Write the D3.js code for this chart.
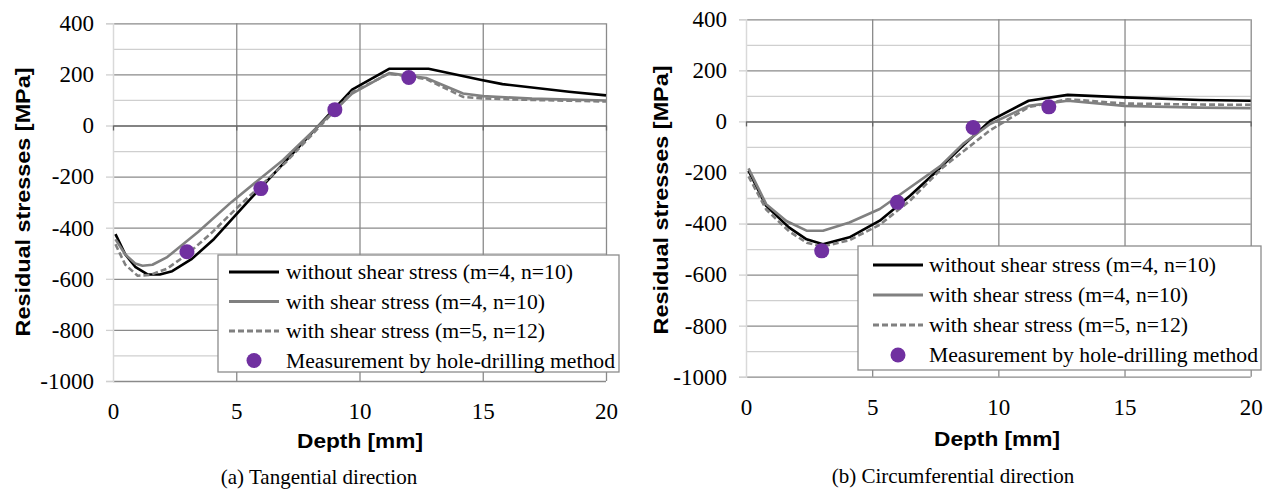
<!DOCTYPE html>
<html>
<head>
<meta charset="utf-8">
<script src="https://cdn.jsdelivr.net/npm/d3@7"></script>
<style>
body { margin: 0; background: #fff; }
</style>
</head>
<body>
<svg id="chart" width="1272" height="494"></svg>
<script>
// axis ticks
var depthTicks = [0, 5, 10, 15, 20];
var stressTicks = [-1000, -800, -600, -400, -200, 0, 200, 400];
var stressMinor = [-900, -700, -500, -300, -100, 100, 300];

var legendLabels = [
	"without shear stress (m=4, n=10)",
	"with shear stress (m=4, n=10)",
	"with shear stress (m=5, n=12)",
	"Measurement by hole-drilling method"
];

// hole-drilling measurements
var measDepth = [3, 6, 9, 12];
var tanMeas = [-494, -247, 62, 188];
var circMeas = [-507, -317, -24, 57];

// (a) tangential : [depth mm, stress MPa]
var tanNoShear = [[0.1,-425],[0.5,-505],[0.9,-553],[1.4,-583],[1.9,-583],[2.4,-570],[3.2,-522],[4.1,-444],[5.5,-295],[9.7,140],[11.2,222],[12.8,222],[14.9,179],[15.8,162],[18.5,132],[20,118]];
var tanShear410 = [[0.1,-445],[0.5,-505],[0.9,-540],[1.2,-549],[1.6,-545],[2.2,-515],[3.45,-417],[4.8,-300],[6.9,-135],[9.7,125],[11.2,205],[12.7,186],[14.2,125],[15,115],[17,105],[20,98]];
var tanShear512 = [[0.1,-465],[0.5,-545],[1.0,-588],[1.5,-585],[2.2,-560],[3.0,-505],[4.0,-420],[5.0,-325],[7,-145],[9.7,130],[11.2,203],[12.7,182],[14.2,112],[15,106],[17,100],[20,94]];

// (b) circumferential
var circNoShear = [[0.1,-193],[0.8,-331],[1.7,-415],[2.4,-462],[3.05,-481],[4.1,-454],[5.3,-389],[6.5,-291],[7.5,-200],[8.6,-95],[9.67,2],[11.2,81],[12.75,104],[15,94],[18,84],[20,81]];
var circShear410 = [[0.1,-184],[0.8,-324],[1.6,-390],[2.4,-428],[3.05,-428],[4.1,-396],[5.3,-343],[6.5,-259],[7.7,-175],[8.6,-88],[9.67,-10],[11.2,61],[12.75,81],[15,61],[18,54],[20,52]];
var circShear512 = [[0.1,-215],[0.8,-345],[1.7,-430],[2.4,-475],[3.05,-490],[4.1,-465],[5.3,-405],[6.5,-310],[7.8,-180],[9.67,-35],[11.2,56],[12.75,87],[15,70],[18,66],[20,65]];

var seriesStyle = [
	{ color: "#000000", dash: null },
	{ color: "#808080", dash: null },
	{ color: "#808080", dash: "6,3" }
];
var purple = "#7030A0";
var serif = "'Liberation Serif', 'Times New Roman', serif";
var sans = "'Liberation Sans', Arial, sans-serif";

var svg = d3.select("#chart");

function plain(d) { return String(d); }

function drawPanel(p) {
	var x = d3.scaleLinear().domain([0, 20]).range([p.left, p.right]);
	var y = d3.scaleLinear().domain([-1000, 400]).range([p.bottom, p.top]);
	var w = p.right - p.left, h = p.bottom - p.top;
	var g = svg.append("g");

	// minor horizontal grid
	g.append("g")
		.attr("transform", "translate(" + p.left + ",0)")
		.call(d3.axisLeft(y).tickValues(stressMinor).tickSize(-w).tickFormat(""))
		.call(function(s) {
			s.select(".domain").remove();
			s.selectAll("line").attr("stroke", "#cfcfcf").attr("stroke-width", 1.3);
		});

	// major horizontal grid
	g.append("g")
		.attr("transform", "translate(" + p.left + ",0)")
		.call(d3.axisLeft(y).tickValues(stressTicks).tickSize(-w).tickFormat(""))
		.call(function(s) {
			s.select(".domain").remove();
			s.selectAll("line").attr("stroke", "#8a8a8a").attr("stroke-width", 1.3);
		});

	// vertical grid
	g.append("g")
		.attr("transform", "translate(0," + p.bottom + ")")
		.call(d3.axisBottom(x).tickValues([5, 10, 15, 20]).tickSize(-h).tickFormat(""))
		.call(function(s) {
			s.select(".domain").remove();
			s.selectAll("line").attr("stroke", "#8a8a8a").attr("stroke-width", 1.3);
		});

	// y axis with labels
	g.append("g")
		.attr("transform", "translate(" + p.left + ",0)")
		.call(d3.axisLeft(y).tickValues(stressTicks).tickFormat(plain).tickSize(7).tickPadding(12))
		.call(function(s) {
			s.attr("font-family", null).attr("font-size", null);
			s.select(".domain").attr("stroke", "#d9d9d9").attr("stroke-width", 1.5);
			s.selectAll("line").attr("stroke", "#d0d0d0").attr("stroke-width", 1.3);
			s.selectAll("text").style("font-family", serif).style("font-size", "23px").attr("fill", "#000");
		});

	// x axis line at zero with tick marks
	g.append("g")
		.attr("transform", "translate(0," + y(0) + ")")
		.call(d3.axisBottom(x).tickValues(depthTicks).tickSize(5).tickFormat("").tickSizeOuter(0))
		.call(function(s) {
			s.select(".domain").attr("stroke", "#777").attr("stroke-width", 1.5);
			s.selectAll("line").attr("stroke", "#666").attr("stroke-width", 1.3);
		});

	// x tick labels at the bottom
	g.append("g")
		.attr("transform", "translate(0," + p.bottom + ")")
		.call(d3.axisBottom(x).tickValues(depthTicks).tickFormat(plain).tickSize(0).tickPadding(22))
		.call(function(s) {
			s.attr("font-family", null).attr("font-size", null);
			s.select(".domain").remove();
			s.selectAll("text").style("font-family", serif).style("font-size", "23px").attr("fill", "#000");
		});

	// curves
	var line = d3.line().x(function(d) { return x(d[0]); }).y(function(d) { return y(d[1]); });
	[p.s1, p.s2, p.s3].forEach(function(data, i) {
		g.append("path")
			.datum(data)
			.attr("d", line)
			.attr("fill", "none")
			.attr("stroke", seriesStyle[i].color)
			.attr("stroke-width", 2.6)
			.attr("stroke-linejoin", "round")
			.attr("stroke-dasharray", seriesStyle[i].dash);
	});

	// measurements
	g.selectAll(".meas")
		.data(measDepth)
		.enter().append("circle")
		.attr("class", "meas")
		.attr("cx", function(d) { return x(d); })
		.attr("cy", function(d, i) { return y(p.meas[i]); })
		.attr("r", 7.5)
		.attr("fill", purple);

	// legend
	var lg = p.legend;
	g.append("rect")
		.attr("x", lg.x).attr("y", lg.y).attr("width", lg.w).attr("height", lg.h)
		.attr("fill", "#fff").attr("stroke", "#8c8c8c").attr("stroke-width", 1.3);
	var textLen = [287, 259, 259, 329];
	legendLabels.forEach(function(label, i) {
		var cy = lg.rowY + i * lg.step;
		if (i < 3) {
			g.append("line")
				.attr("x1", lg.sx).attr("x2", lg.sx + 50)
				.attr("y1", cy).attr("y2", cy)
				.attr("stroke", seriesStyle[i].color)
				.attr("stroke-width", 3)
				.attr("stroke-dasharray", seriesStyle[i].dash);
		} else {
			g.append("circle").attr("cx", lg.sx + 25).attr("cy", cy).attr("r", 7.5).attr("fill", purple);
		}
		g.append("text")
			.attr("x", lg.tx).attr("y", cy + 7)
			.style("font-family", serif).style("font-size", "20px")
			.attr("textLength", textLen[i]).attr("lengthAdjust", "spacingAndGlyphs")
			.text(label);
	});

	// axis titles
	g.append("text")
		.attr("transform", "translate(" + p.ytx + "," + p.yty + ") rotate(-90)")
		.attr("text-anchor", "middle")
		.style("font-family", sans).style("font-weight", "bold").style("font-size", "21px")
		.attr("textLength", 269).attr("lengthAdjust", "spacingAndGlyphs")
		.text("Residual stresses [MPa]");
	g.append("text")
		.attr("x", p.xtx).attr("y", p.xty)
		.attr("text-anchor", "middle")
		.style("font-family", sans).style("font-weight", "bold").style("font-size", "21px")
		.attr("textLength", 126).attr("lengthAdjust", "spacingAndGlyphs")
		.text("Depth [mm]");

	// caption
	g.append("text")
		.attr("x", p.cx).attr("y", p.cy)
		.attr("text-anchor", "middle")
		.style("font-family", serif).style("font-size", "21px")
		.text(p.caption);
}

drawPanel({
	left: 113, right: 606, top: 23.3, bottom: 381,
	s1: tanNoShear, s2: tanShear410, s3: tanShear512, meas: tanMeas,
	legend: { x: 218, y: 255, w: 401, h: 117, rowY: 272, step: 29.5, sx: 229, tx: 286 },
	ytx: 30, yty: 202, xtx: 360, xty: 448,
	cx: 319, cy: 484, caption: "(a) Tangential direction"
});

drawPanel({
	left: 746, right: 1250.7, top: 19.3, bottom: 376.7,
	s1: circNoShear, s2: circShear410, s3: circShear512, meas: circMeas,
	legend: { x: 858, y: 246, w: 403, h: 124, rowY: 265, step: 30, sx: 873, tx: 929 },
	ytx: 668, yty: 200, xtx: 997, xty: 446,
	cx: 953, cy: 483, caption: "(b) Circumferential direction"
});
</script>
</body>
</html>
